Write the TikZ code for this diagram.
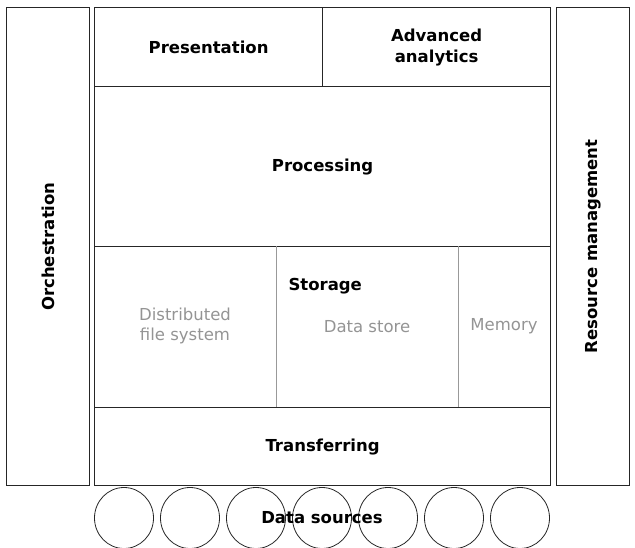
\documentclass[tikz,border=0pt]{standalone}
\usepackage{fontspec}
\setmainfont{DejaVu Sans}
\usetikzlibrary{shapes.geometric}
\tikzset{
  frame/.style={draw=black!85, line width=1.2pt, inner sep=0pt, anchor=north west},
  lbl/.style={font=\bfseries\fontsize{16.5}{21}\selectfont, align=center, text=black},
  sub/.style={font=\fontsize{16.5}{20}\selectfont, align=center, text=black!42},
  divider/.style={draw=black!40, line width=0.8pt},
  source/.style={ellipse, draw=black!85, line width=0.8pt, minimum width=59pt, minimum height=61pt, inner sep=0pt}
}
\begin{document}
\begin{tikzpicture}[x=1pt, y=-1pt]
\useasboundingbox (0,0) rectangle (635,548);

% side columns
\node[frame, minimum width=83pt, minimum height=478pt] (orch) at (6,7) {};
\node[lbl, rotate=90] at (orch.center) {Orchestration};
\node[frame, minimum width=73pt, minimum height=478pt] (res) at (556,7) {};
\node[lbl, rotate=90] at (res.center) {Resource management};

% top row
\node[frame, minimum width=228pt, minimum height=79pt] (pres) at (94,7) {};
\node[lbl] at (pres.center) {Presentation};
\node[frame, minimum width=228pt, minimum height=79pt] (adv) at (322,7) {};
\node[lbl] at (adv.center) {Advanced\\analytics};

% processing
\node[frame, minimum width=456pt, minimum height=160pt] (proc) at (94,86) {};
\node[lbl] at (proc.center) {Processing};

% storage
\node[frame, minimum width=456pt, minimum height=161pt] (stor) at (94,246) {};
\coordinate (d1) at ([xshift=182pt]stor.north west);
\coordinate (d2) at ([xshift=364pt]stor.north west);
\draw[divider] (d1) -- (d1 |- stor.south);
\draw[divider] (d2) -- (d2 |- stor.south);
\node[lbl, anchor=west] at (285,286) {Storage};
\node[sub] at (185,326) {Distributed\\file system};
\node[sub] at (367,327) {Data store};
\node[sub] at (504,326) {Memory};

% transferring
\node[frame, minimum width=456pt, minimum height=78pt] (trans) at (94,407) {};
\node[lbl] at (trans.center) {Transferring};

% data sources
\foreach \i in {0,...,6} {
  \node[source] (s\i) at (124+66*\i, 518) {};
}
\node[lbl] at (s3.center) {Data sources};
\end{tikzpicture}
\end{document}
